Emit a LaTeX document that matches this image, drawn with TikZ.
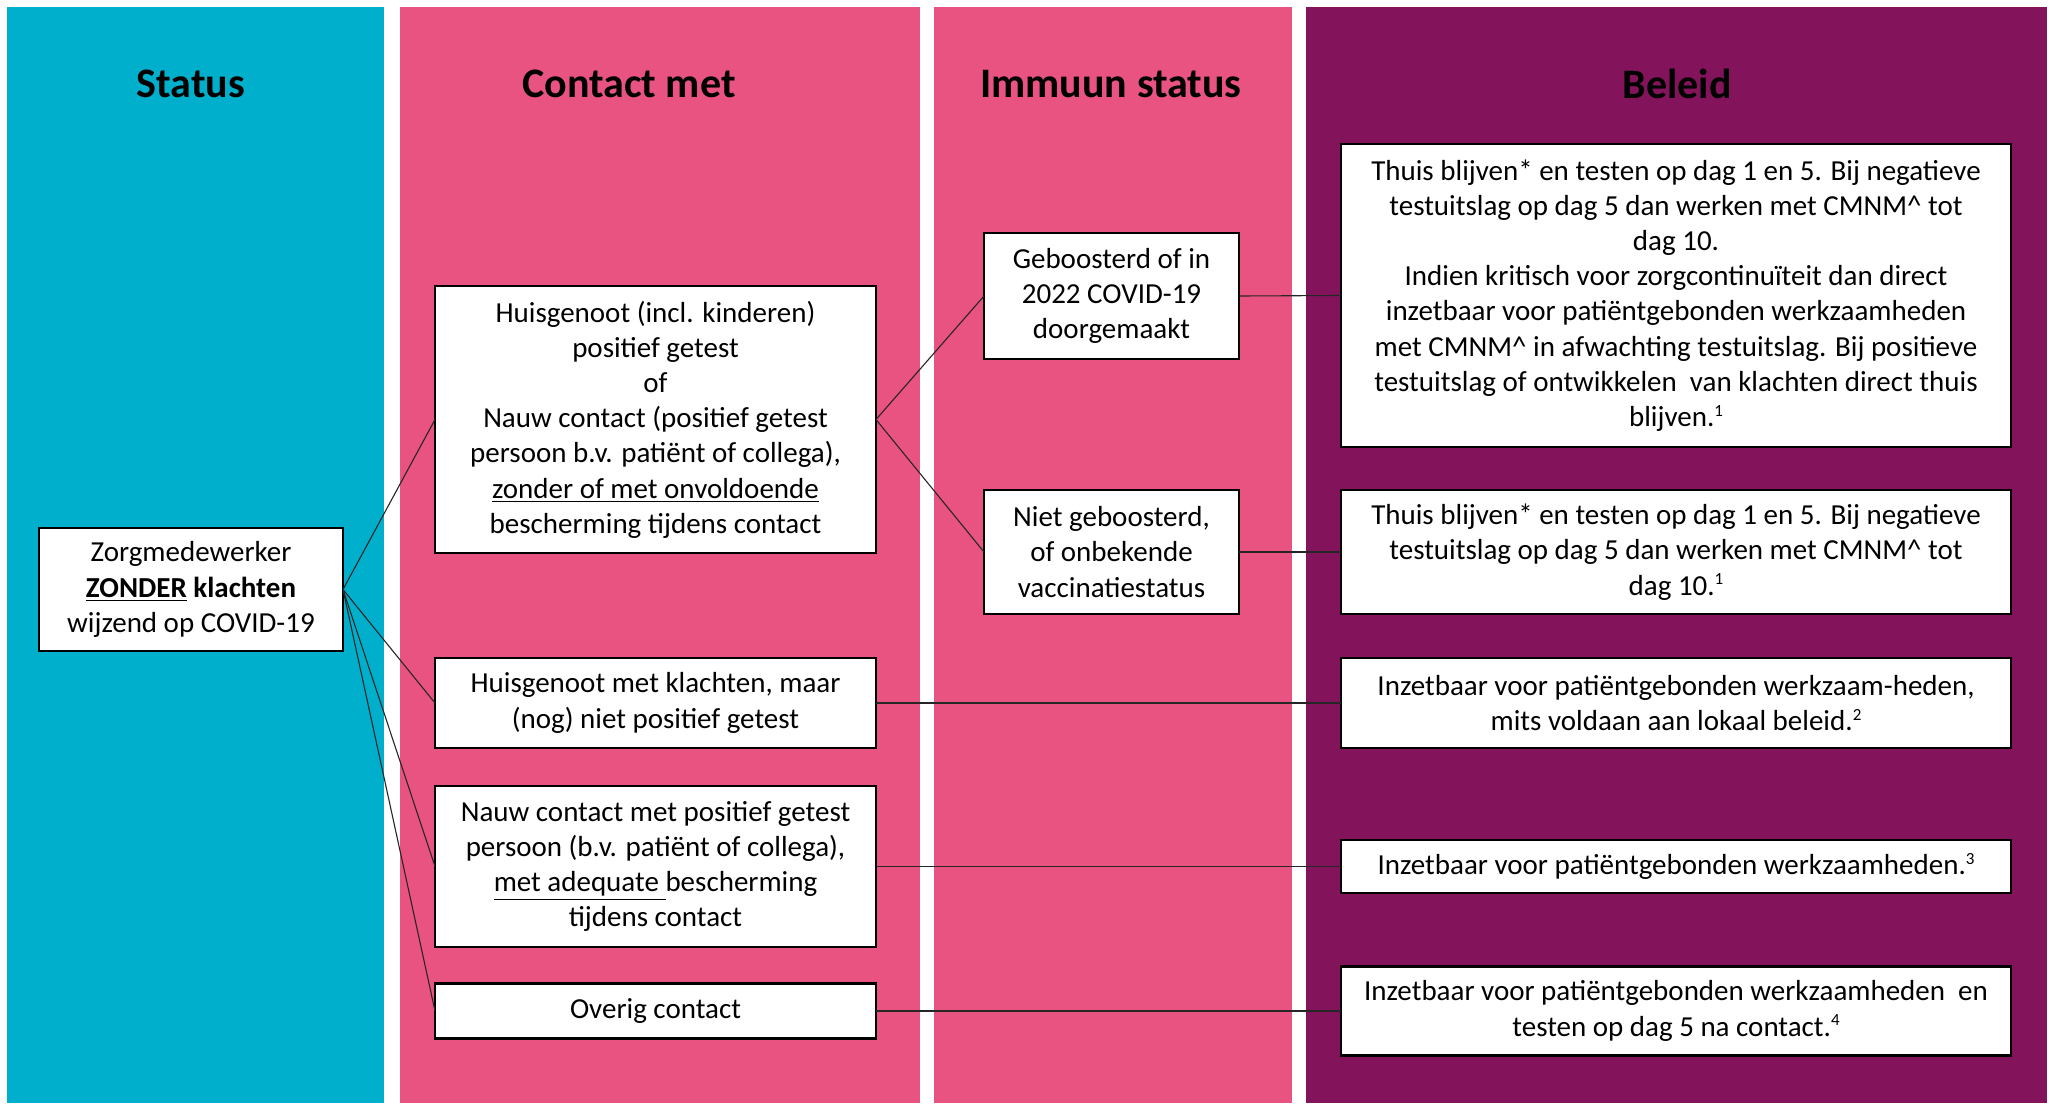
\documentclass[tikz,border=0pt]{standalone}
\usepackage{fontspec}
\setmainfont{Carlito}
\usepackage{tikz}
\usetikzlibrary{positioning}

\definecolor{statuscol}{RGB}{0,175,204}
\definecolor{contactcol}{RGB}{233,83,130}
\definecolor{beleidcol}{RGB}{131,20,92}

\newcommand{\fnmark}[1]{\raisebox{0.75ex}{\fontsize{8.5}{9}\selectfont #1}}

\tikzset{
  infobox/.style={shape=rectangle, draw=black, line width=1.3pt, fill=white, align=center,
    inner sep=0pt, outer sep=0pt, font=\fontsize{14.5}{17.6}\selectfont},
  header/.style={font=\fontsize{21}{25}\selectfont\bfseries},
  link/.style={draw=black!85, line width=0.55pt}
}

\begin{document}
\begin{tikzpicture}[x=0.5pt, y=-0.5pt]
    \useasboundingbox (0,0) rectangle (2054,1103);
    \fill[white] (0,0) rectangle (2054,1103);
    \fill[statuscol] (6.5,6.5) rectangle (384,1103);
    \fill[contactcol] (400,6.5) rectangle (920,1103);
    \fill[contactcol] (934,6.5) rectangle (1292,1103);
    \fill[beleidcol] (1306,6.5) rectangle (2047,1103);

    \node[header] (hStatus) at (191,84) {Status};
    \node[header] (hContact) at (629,84) {Contact met};
    \node[header] (hImmuun) at (1111,84) {Immuun status};
    \node[header] (hBeleid) at (1677,84) {Beleid};

    \node[infobox, minimum width=152pt, minimum height=61.5pt] (zorg) at (191,589.5)
        {Zorgmedewerker\\ \textbf{\underline{ZONDER} klachten}\\ wijzend op COVID-19};

    \node[infobox, minimum width=220.5pt, minimum height=133.5pt] (huis) at (655.5,419.5)
        {Huisgenoot (incl. kinderen)\\ positief getest\\ of\\ Nauw contact (positief getest\\
         persoon b.v. patiënt of collega),\\ \underline{zonder of met onvoldoende}\\ bescherming tijdens contact};
    \node[infobox, minimum width=220.5pt, minimum height=45pt] (klacht) at (655.5,703)
        {Huisgenoot met klachten, maar\\ (nog) niet positief getest};
    \node[infobox, minimum width=220.5pt, minimum height=80.5pt] (nauw) at (655.5,866.5)
        {Nauw contact met positief getest\\ persoon (b.v. patiënt of collega),\\
         \underline{met adequate\ }bescherming\\ tijdens contact};
    \node[infobox, minimum width=220.5pt, minimum height=27.5pt] (overig) at (655.5,1011)
        {Overig contact};

    \node[infobox, minimum width=127.5pt, minimum height=63pt] (boost) at (1111.5,296)
        {Geboosterd of in\\ 2022 COVID-19\\ doorgemaakt};
    \node[infobox, minimum width=127.5pt, minimum height=62pt] (nietboost) at (1111.5,552)
        {Niet geboosterd,\\ of onbekende\\ vaccinatiestatus};

    \node[infobox, minimum width=335pt, minimum height=151.5pt] (bel1) at (1676,295.5)
        {Thuis blijven* en testen op dag 1 en 5. Bij negatieve\\ testuitslag op dag 5 dan werken met CMNM\textasciicircum{} tot\\
         dag 10.\\ Indien kritisch voor zorgcontinuïteit dan direct\\ inzetbaar voor patiëntgebonden werkzaamheden\\
         met CMNM\textasciicircum{} in afwachting testuitslag. Bij positieve\\ testuitslag of ontwikkelen\ \ van klachten direct thuis\\
         blijven.\fnmark{1}};
    \node[infobox, minimum width=335pt, minimum height=62pt] (bel2) at (1676,552)
        {Thuis blijven* en testen op dag 1 en 5. Bij negatieve\\ testuitslag op dag 5 dan werken met CMNM\textasciicircum{} tot\\
         dag 10.\fnmark{1}};
    \node[infobox, minimum width=335pt, minimum height=45pt] (bel3) at (1676,703)
        {Inzetbaar voor patiëntgebonden werkzaam-heden,\\ mits voldaan aan lokaal beleid.\fnmark{2}};
    \node[infobox, minimum width=335pt, minimum height=26.5pt] (bel4) at (1676,866.5)
        {Inzetbaar voor patiëntgebonden werkzaamheden.\fnmark{3}};
    \node[infobox, minimum width=335pt, minimum height=44.5pt] (bel5) at (1676,1011)
        {Inzetbaar voor patiëntgebonden werkzaamheden\ \ en\\ testen op dag 5 na contact.\fnmark{4}};

    % status -> contact
    \draw[link] (zorg.east) -- (huis.west);
    \draw[link] (zorg.east) -- (klacht.west);
    \draw[link] (zorg.east) -- (nauw.west);
    \draw[link] (zorg.east) -- (overig.west);
    % contact -> immuun status
    \draw[link] (huis.east) -- (boost.west);
    \draw[link] (huis.east) -- (nietboost.west);
    % -> beleid
    \draw[link] (boost.east) -- (bel1.west);
    \draw[link] (nietboost.east) -- (bel2.west);
    \draw[link] (klacht.east) -- (bel3.west);
    \draw[link] (nauw.east) -- (bel4.west);
    \draw[link] (overig.east) -- (bel5.west);
\end{tikzpicture}
\end{document}
